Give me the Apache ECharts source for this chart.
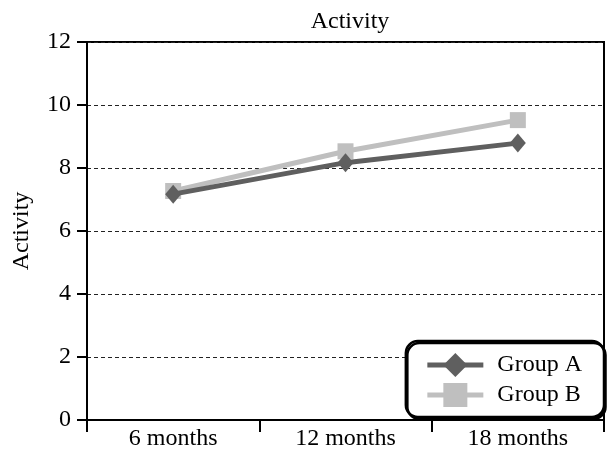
<!DOCTYPE html>
<html><head><meta charset="utf-8">
<script src="https://cdn.jsdelivr.net/npm/echarts@6/dist/echarts.min.js"></script>
<style>html,body{margin:0;padding:0;background:#fff}#c{width:608px;height:456px}</style>
</head><body><div id="c"></div>
<script>
const categories = ["6 months", "12 months", "18 months"];
const groupA = [7.17, 8.17, 8.79];
const groupB = [7.27, 8.53, 9.52];
const yTicks = [0, 2, 4, 6, 8, 10, 12];
const FONT = '"Liberation Serif", "DejaVu Serif", serif';
const chart = echarts.init(document.getElementById('c'));
chart.setOption({
  backgroundColor: '#fff',
  animation: false,
  title: { text: 'Activity', left: 345, top: 5, textAlign: 'center',
    textStyle: { fontFamily: FONT, fontSize: 24, fontWeight: 'normal', color: '#000' } },
  grid: { left: 87, right: 4, top: 42, bottom: 36, show: true, borderColor: '#000', borderWidth: 2, backgroundColor: 'transparent' },
  legend: {
    right: 4, bottom: 39, orient: 'vertical',
    backgroundColor: '#fff', borderColor: '#000', borderWidth: 2.5, borderRadius: 12,
    padding: [12, 22, 10, 19], itemGap: 6, itemWidth: 56, itemHeight: 30,
    lineStyle: { width: 5 },
    textStyle: { fontFamily: FONT, fontSize: 24, color: '#000', padding: [0, 0, 0, 9] },
    shadowColor: '#000', shadowOffsetX: 1.5, shadowOffsetY: 2, shadowBlur: 0,
    data: ['Group A', 'Group B']
  },
  xAxis: {
    type: 'category', data: categories, boundaryGap: true,
    axisLine: { lineStyle: { color: '#000', width: 2 } },
    axisTick: { show: true, length: 12, interval: 0, lineStyle: { color: '#000', width: 2 } },
    axisLabel: { fontFamily: FONT, fontSize: 24, color: '#000', margin: 7 }
  },
  yAxis: {
    type: 'value', min: yTicks[0], max: yTicks[yTicks.length - 1], interval: 2,
    name: 'Activity', nameLocation: 'middle', nameGap: 53,
    nameTextStyle: { fontFamily: FONT, fontSize: 24, color: '#000' },
    axisLine: { show: true, lineStyle: { color: '#000', width: 2 } },
    axisTick: { show: true, length: 10, lineStyle: { color: '#000', width: 2 } },
    axisLabel: { fontFamily: FONT, fontSize: 24, color: '#000', margin: 16 },
    splitLine: { show: true, lineStyle: { color: '#222', type: [4, 3], width: 1 } }
  },
  series: [
    { name: 'Group A', type: 'line', data: groupA, symbol: 'diamond', symbolSize: [16, 19],
      lineStyle: { color: '#5f5f5f', width: 5 }, itemStyle: { color: '#5f5f5f' }, z: 3 },
    { name: 'Group B', type: 'line', data: groupB, symbol: 'rect', symbolSize: 16,
      lineStyle: { color: '#bfbfbf', width: 5 }, itemStyle: { color: '#bfbfbf' }, z: 2 }
  ]
});
</script></body></html>
